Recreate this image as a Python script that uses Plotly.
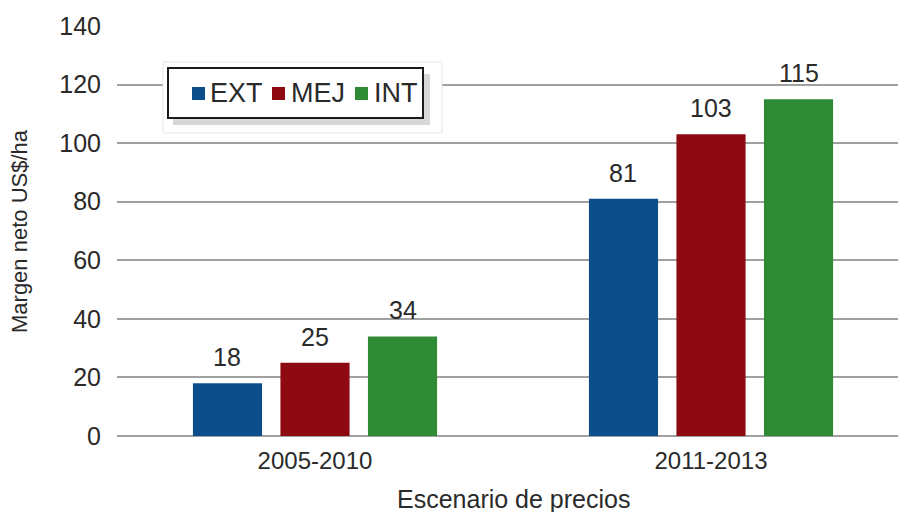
import plotly.graph_objects as go

categories = ["2005-2010", "2011-2013"]
series_names = ["EXT", "MEJ", "INT"]
ext_values = [18, 81]
mej_values = [25, 103]
int_values = [34, 115]
y_ticks = [0, 20, 40, 60, 80, 100, 120, 140]

colors = ["#0C4E8C", "#8D0A13", "#2F8A36"]
all_values = [ext_values, mej_values, int_values]

W, H = 898, 512
# pixel geometry of the plot area
PX0, PX1, PY0, PY1 = 117, 898, 26, 436
L, R, T, B = PX0, W - PX1, PY0, H - PY1
PW, PH = PX1 - PX0, PY1 - PY0
FONT = "Liberation Sans, Arial, sans-serif"
TXT = "#2a2a2a"

BARGAP = 0.337
BARGROUPGAP = 0.21
slot = (1 - BARGAP) / len(series_names)


def px_x(X):
    return (X - PX0) / PW


def px_y(Y):
    return (PY1 - Y) / PH


fig = go.Figure()
for name, vals, col in zip(series_names, all_values, colors):
    fig.add_trace(go.Bar(name=name, x=categories, y=vals, marker=dict(color=col, line=dict(width=0)),
                         showlegend=False))

annotations = []
for k, vals in enumerate(all_values):
    for i, v in enumerate(vals):
        annotations.append(dict(x=i + (k - 1) * slot, y=v, xref="x", yref="y", text=str(v),
                                showarrow=False, yanchor="middle", yshift=26,
                                font=dict(family=FONT, size=25, color=TXT)))

annotations.append(dict(x=px_x(513), y=px_y(499), xref="paper", yref="paper", text="Escenario de precios",
                        showarrow=False, xanchor="center", yanchor="middle",
                        font=dict(family=FONT, size=25, color=TXT)))
annotations.append(dict(x=px_x(19), y=0.5, xref="paper", yref="paper", text="Margen neto US$/ha",
                        showarrow=False, textangle=-90, xanchor="center", yanchor="middle",
                        font=dict(family=FONT, size=22, color=TXT)))

shapes = []
shapes.append(dict(type="rect", xref="paper", yref="paper", x0=px_x(163), x1=px_x(442), y0=px_y(62), y1=px_y(133),
                   fillcolor="white", line=dict(color="#e6e6e6", width=1), layer="above"))
shapes.append(dict(type="rect", xref="paper", yref="paper", x0=px_x(173), x1=px_x(430), y0=px_y(74), y1=px_y(125),
                   fillcolor="#bdbdbd", line=dict(width=0), opacity=0.6, layer="above"))
shapes.append(dict(type="rect", xref="paper", yref="paper", x0=px_x(168), x1=px_x(423), y0=px_y(68), y1=px_y(118),
                   fillcolor="white", line=dict(color="#1a1a1a", width=2), layer="above"))

sq_x = [192, 272, 355]
tx_x = [208, 289, 372]
for name, col, sx, tx in zip(series_names, colors, sq_x, tx_x):
    shapes.append(dict(type="rect", xref="paper", yref="paper", x0=px_x(sx), x1=px_x(sx + 13),
                       y0=px_y(87), y1=px_y(100), fillcolor=col, line=dict(width=0), layer="above"))
    annotations.append(dict(x=px_x(tx), y=px_y(93), xref="paper", yref="paper", text=name, showarrow=False,
                            xanchor="left", yanchor="middle", font=dict(family=FONT, size=27, color=TXT)))

fig.update_layout(
    width=W, height=H,
    margin=dict(l=L, r=R, t=T, b=B, pad=0),
    paper_bgcolor="white", plot_bgcolor="white",
    barmode="group", bargap=BARGAP, bargroupgap=BARGROUPGAP,
    annotations=annotations, shapes=shapes,
    font=dict(family=FONT, color=TXT),
    xaxis=dict(range=[-0.5, -0.5 + PW / (PW + 11) * 2], showgrid=False, showline=False, zeroline=False,
               ticks="", tickfont=dict(family=FONT, size=24, color=TXT), ticklabelstandoff=8),
    yaxis=dict(range=[0, 140], tickvals=y_ticks, showgrid=True, gridcolor="#a0a0a0", gridwidth=1.5,
               zeroline=True, zerolinecolor="#a0a0a0", zerolinewidth=1.5, showline=False, ticks="",
               tickfont=dict(family=FONT, size=25, color=TXT), ticklabelstandoff=15),
)

fig.write_html("out.html", config={"displayModeBar": False},
               post_script="document.body.style.margin='0';document.body.style.overflow='hidden';")
